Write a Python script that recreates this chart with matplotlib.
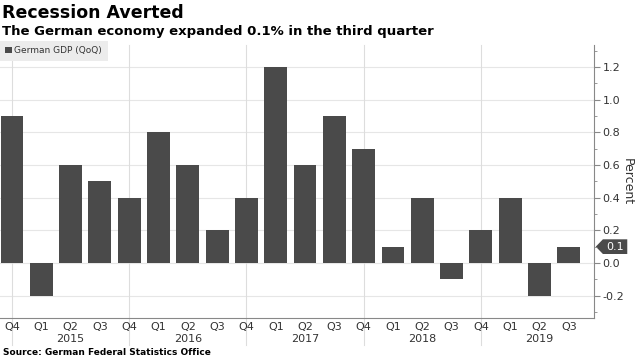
import numpy as np
import matplotlib
matplotlib.use("Agg")
import matplotlib.pyplot as plt
from matplotlib.patches import Polygon
from matplotlib.transforms import blended_transform_factory

quarters = ["Q4", "Q1", "Q2", "Q3", "Q4", "Q1", "Q2", "Q3", "Q4", "Q1",
            "Q2", "Q3", "Q4", "Q1", "Q2", "Q3", "Q4", "Q1", "Q2", "Q3"]
gdp_qoq = [0.9, -0.2, 0.6, 0.5, 0.4, 0.8, 0.6, 0.2, 0.4, 1.2,
           0.6, 0.9, 0.7, 0.1, 0.4, -0.1, 0.2, 0.4, -0.2, 0.1]
years = ["2015", "2016", "2017", "2018", "2019"]
year_label_pos = [2, 6, 10, 14, 18]
year_sep_pos = [0, 4, 8, 12, 16]

BAR = "#4a4a4a"
TXT = "#333333"
GRID = "#e6e6e6"

fig = plt.figure(figsize=(6.4, 3.6), dpi=100)
ax = fig.add_axes([0.0, 42 / 360, 594 / 640, 273 / 360])

x = np.arange(len(gdp_qoq))
ax.bar(x, gdp_qoq, width=0.78, color=BAR, label="German GDP (QoQ)", zorder=3)

ax.set_xlim(-0.41, 19.86)
ax.set_ylim(-0.337, 1.335)

# gridlines
for v in np.arange(-0.2, 1.3, 0.2):
    ax.axhline(v, color=GRID, lw=0.8, zorder=1)
trans = blended_transform_factory(ax.transData, ax.transAxes)
for p in year_sep_pos:
    ax.plot([p, p], [1.0, -0.1], color="#dddddd", lw=0.8, transform=trans,
            clip_on=False, zorder=1)

# y axis on the right
ax.yaxis.tick_right()
ax.yaxis.set_label_position("right")
ax.set_yticks(np.arange(-0.2, 1.3, 0.2))
ax.set_yticklabels([f"{v:.1f}" for v in np.arange(-0.2, 1.3, 0.2)])
ax.set_yticks(np.arange(-0.3, 1.35, 0.1), minor=True)
ax.tick_params(axis="y", which="major", length=4, color="#888888",
               labelsize=8, labelcolor=TXT, pad=2)
ax.tick_params(axis="y", which="minor", length=2, color="#888888")
ax.set_ylabel("Percent", rotation=270, labelpad=7, fontsize=9, color=TXT)

# x axis labels
ax.set_xticks(x)
ax.set_xticklabels(quarters)
ax.tick_params(axis="x", length=0, labelsize=8, labelcolor=TXT, pad=3)
for pos, yr in zip(year_label_pos, years):
    ax.text(pos, -0.06, yr, transform=trans, ha="center", va="top",
            fontsize=8, color=TXT)

for s in ["top", "left"]:
    ax.spines[s].set_visible(False)
ax.spines["right"].set_color("#888888")
ax.spines["bottom"].set_color("#888888")

# last value marker
tr2 = blended_transform_factory(ax.transAxes, ax.transData)
last = gdp_qoq[-1]
h = 0.045
poly = Polygon([[1.003, last], [1.015, last + h], [1.056, last + h],
                [1.056, last - h], [1.015, last - h]], closed=True,
               transform=tr2, clip_on=False, facecolor=BAR, edgecolor="none")
ax.add_patch(poly)
ax.text(1.036, last, f"{last:.1f}", transform=tr2, ha="center", va="center",
        fontsize=8, color="white")

leg = ax.legend(loc="upper left", bbox_to_anchor=(0.0, 1.015), fontsize=6.5,
                frameon=True, fancybox=False, handlelength=0.7,
                handleheight=0.7, handletextpad=0.3, borderpad=0.6,
                borderaxespad=0)
leg.get_frame().set_facecolor("#ececec")
leg.get_frame().set_edgecolor("none")
leg.get_frame().set_alpha(1)
for t in leg.get_texts():
    t.set_color(TXT)

fig.text(0.003, 0.99, "Recession Averted", ha="left", va="top",
         fontsize=12.5, fontweight="bold", color="black")
fig.text(0.003, 0.93, "The German economy expanded 0.1% in the third quarter",
         ha="left", va="top", fontsize=9.5, fontweight="bold", color="black")
fig.text(0.005, 0.008, "Source: German Federal Statistics Office",
         ha="left", va="bottom", fontsize=6.5, fontweight="bold", color="black")

fig.savefig("out.png", dpi=100)
